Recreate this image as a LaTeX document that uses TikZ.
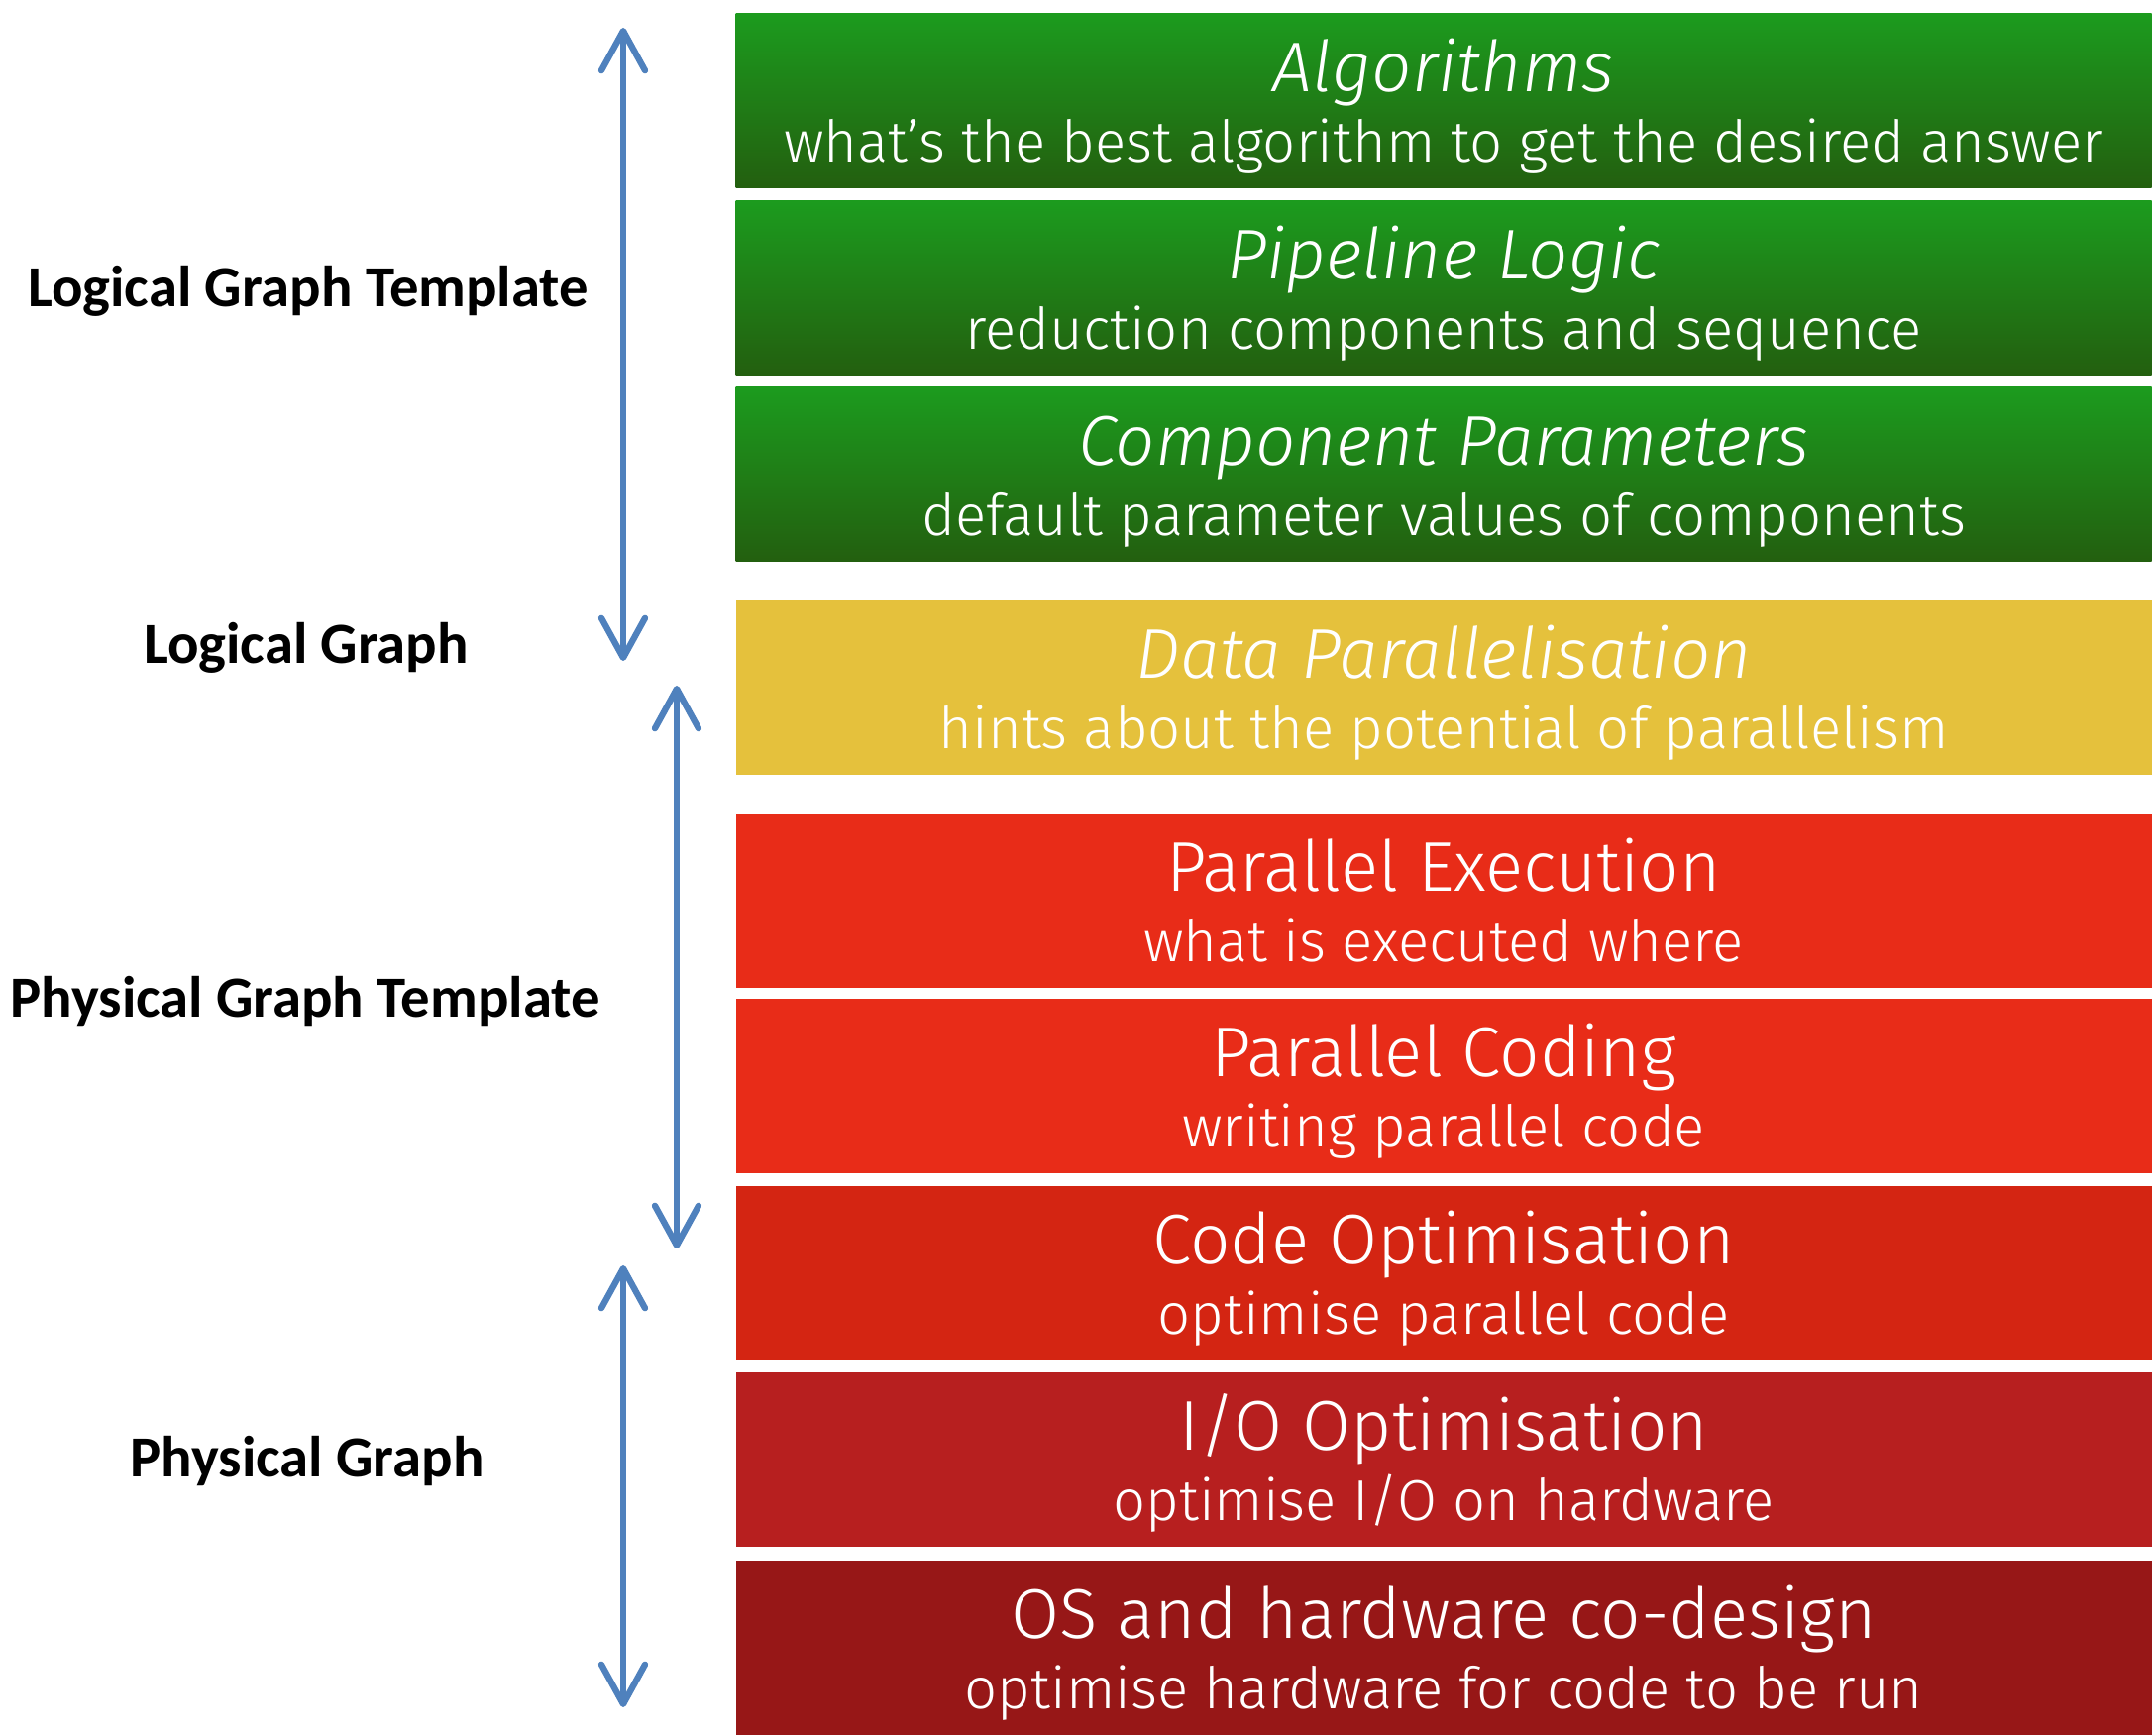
\documentclass[tikz,border=0pt]{standalone}
\usepackage{fontspec}
\setmainfont{Liberation Sans}
\IfFontExistsTF{Fira Sans Light}{%
  \newfontfamily\boxfont{Fira Sans}[UprightFont={* Light},ItalicFont={* Light Italic}]}{%
  \newfontfamily\boxfont{Liberation Sans}}
\newfontfamily\labelfont{Carlito}
\usetikzlibrary{arrows.meta}
\definecolor{gtop}{RGB}{28,155,30}
\definecolor{gbot}{RGB}{35,95,15}
\definecolor{ylw}{RGB}{229,193,60}
\definecolor{redA}{RGB}{232,44,24}
\definecolor{redB}{RGB}{212,37,18}
\definecolor{redC}{RGB}{183,31,31}
\definecolor{redD}{RGB}{151,23,23}
\definecolor{arrowblue}{RGB}{79,129,189}
\tikzset{
  layerbox/.style={anchor=north west,inner sep=0pt,minimum width=14.28cm,minimum height=1.76cm},
  greenbox/.style={top color=gtop,bottom color=gbot},
  titletext/.style={anchor=base,inner sep=0pt,text=white,font=\boxfont\fontsize{20.2}{24}\selectfont},
  subtext/.style={anchor=base,inner sep=0pt,text=white,font=\boxfont\fontsize{16.5}{19}\selectfont},
  sidelabel/.style={anchor=base,inner sep=0pt,text=black,font=\labelfont\bfseries\fontsize{16.7}{20}\selectfont},
  bluearrow/.style={draw=arrowblue,line width=1.8pt,{Straight Barb[round,length=0.4cm,width=0.44cm]}-{Straight Barb[round,length=0.4cm,width=0.44cm]}}
}
\newcommand\Layer[5]{%
  \node[layerbox,#3] (#1) at (742,#2) {};
  \node[titletext] (#1-t) at ([yshift=-0.79cm]#1.north) {#4};
  \node[subtext] (#1-s) at ([yshift=-1.50cm]#1.north) {#5};
}
\begin{document}
\begin{tikzpicture}[x=0.01cm,y=-0.01cm]
\useasboundingbox[fill=white] (0,0) rectangle (2174,1752);
\Layer{alg}{13}{greenbox}{\itshape Algorithms}{what’s the best algorithm to get the desired answer}
\Layer{pipe}{202}{greenbox}{\itshape Pipeline Logic}{reduction components and sequence}
\Layer{comp}{390}{greenbox}{\itshape Component Parameters}{default parameter values of components}
\Layer{data}{605}{fill=ylw}{\itshape Data Parallelisation}{hints about the potential of parallelism}
\Layer{pexe}{820}{fill=redA}{Parallel Execution}{what is executed where}
\Layer{pcod}{1007}{fill=redA}{Parallel Coding}{writing parallel code}
\Layer{copt}{1196}{fill=redB}{Code Optimisation}{optimise parallel code}
\Layer{iopt}{1384}{fill=redC}{I/O Optimisation}{optimise I/O on hardware}
\Layer{os}{1574}{fill=redD}{OS and hardware co-design}{optimise hardware for code to be run}

\node[sidelabel] (lgt) at (311,310) {Logical Graph Template};
\node[sidelabel] (lg) at (309,670) {Logical Graph};
\node[sidelabel] (pgt) at (308,1027) {Physical Graph Template};
\node[sidelabel] (pg) at (310,1491) {Physical Graph};

\coordinate (a1t) at (629,28);
\coordinate (a1b) at (629,667);
\coordinate (a2t) at (683,692);
\coordinate (a2b) at (683,1260);
\coordinate (a3t) at (629,1277);
\coordinate (a3b) at (629,1723);
\draw[bluearrow] (a1t) -- (a1b);
\draw[bluearrow] (a2t) -- (a2b);
\draw[bluearrow] (a3t) -- (a3b);
\end{tikzpicture}
\end{document}
